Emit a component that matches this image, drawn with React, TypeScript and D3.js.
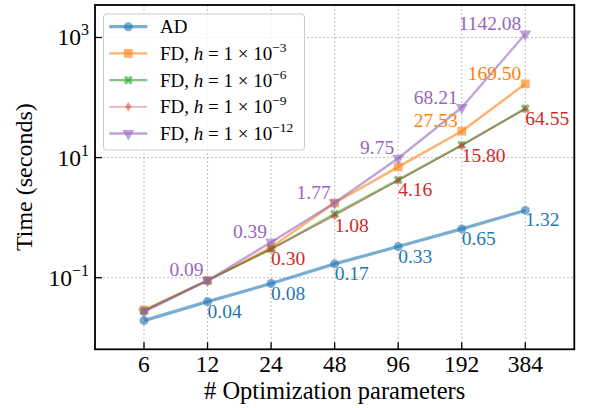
import React from "react";
import * as d3 from "d3";

const params = [6, 12, 24, 48, 96, 192, 384];
const adTimes = [0.0193, 0.04, 0.08, 0.17, 0.33, 0.65, 1.32];
const fd3Times = [0.029, 0.09, 0.32, 1.75, 7.0, 27.53, 169.5];
const fd6Times = [0.028, 0.09, 0.3, 1.15, 4.25, 16.2, 65.5];
const fd9Times = [0.028, 0.09, 0.3, 1.08, 4.16, 15.8, 64.55];
const fd12Times = [0.027, 0.09, 0.39, 1.77, 9.75, 68.21, 1142.08];

const adLabels = [null, "0.04", "0.08", "0.17", "0.33", "0.65", "1.32"];
const fd3Labels = [null, null, null, null, null, "27.53", "169.50"];
const fd9Labels = [null, null, "0.30", "1.08", "4.16", "15.80", "64.55"];
const fd12Labels = [null, "0.09", "0.39", "1.77", "9.75", "68.21", "1142.08"];

const yTickExps = [-1, 1, 3];
const legendExps = ["3", "6", "9", "12"];

const FONT = "Liberation Serif, DejaVu Serif, serif";

const W = 590, H = 408;
const L = 95, R = 574.3, T = 5, B = 349.3;

const x = d3.scaleLog().base(2).domain([Math.pow(2, 1.814), Math.pow(2, 9.356)]).range([L, R]);
const y = d3.scaleLog().domain([Math.pow(10, -2.192), Math.pow(10, 3.541)]).range([B, T]);

type Series = {
  name: string;
  vals: number[];
  color: string;
  lw: number;
  alpha: number;
  marker: string;
  labels: (string | null)[] | null;
  place: "br" | "tl";
};

const series: Series[] = [
  { name: "AD", vals: adTimes, color: "#1f77b4", lw: 3.2, alpha: 0.6, marker: "circle", labels: adLabels, place: "br" },
  { name: "3", vals: fd3Times, color: "#ff7f0e", lw: 2.4, alpha: 0.6, marker: "square", labels: fd3Labels, place: "tl" },
  { name: "6", vals: fd6Times, color: "#2ca02c", lw: 2.4, alpha: 0.6, marker: "x", labels: null, place: "br" },
  { name: "9", vals: fd9Times, color: "#d62728", lw: 1.3, alpha: 0.5, marker: "diamond", labels: fd9Labels, place: "br" },
  { name: "12", vals: fd12Times, color: "#9467bd", lw: 2.4, alpha: 0.6, marker: "tri", labels: fd12Labels, place: "tl" },
];

function markerPath(kind: string): string {
  switch (kind) {
    case "circle":
      return d3.symbol(d3.symbolCircle, 64)() as string;
    case "square":
      return d3.symbol(d3.symbolSquare, 78)() as string;
    case "x":
      return d3.symbol(d3.symbolCross, 52)() as string;
    case "diamond":
      return "M0,-4.8L2.9,0L0,4.8L-2.9,0Z";
    case "tri":
      return d3.symbol(d3.symbolTriangle, 62)() as string;
  }
  return "";
}

function markerTransform(kind: string, cx: number, cy: number) {
  if (kind === "x") return `translate(${cx},${cy}) rotate(45)`;
  if (kind === "tri") return `translate(${cx},${cy}) rotate(180)`;
  return `translate(${cx},${cy})`;
}

const txt: React.CSSProperties = { fontFamily: FONT };

export default function App() {
  const line = d3
    .line<number>()
    .x((_, i) => x(params[i]))
    .y((v) => y(v));

  return (
    <svg width={W} height={H} style={{ position: "absolute", left: 0, top: 0, background: "#fff", fontFamily: FONT }}>
      <rect x={0} y={0} width={W} height={H} fill="#fff" />
      <g stroke="#b0b0b0" strokeWidth={0.8} strokeDasharray="2,2">
        {params.map((p) => (
          <line key={"gx" + p} x1={x(p)} x2={x(p)} y1={T} y2={B} />
        ))}
        {yTickExps.map((e) => (
          <line key={"gy" + e} x1={L} x2={R} y1={y(Math.pow(10, e))} y2={y(Math.pow(10, e))} />
        ))}
      </g>
      {series.map((s) => (
        <g key={s.name}>
          <path d={line(s.vals) as string} fill="none" stroke={s.color} strokeWidth={s.lw} strokeOpacity={s.alpha} strokeLinejoin="round" />
          {s.vals.map((v, i) => (
            <path key={i} d={markerPath(s.marker)} transform={markerTransform(s.marker, x(params[i]), y(v))} fill={s.color} fillOpacity={s.alpha} />
          ))}
        </g>
      ))}
      {series.map((s) =>
        s.labels
          ? s.vals.map((v, i) => {
              const lab = s.labels![i];
              if (!lab) return null;
              const px = x(params[i]);
              const py = y(v);
              return s.place === "br" ? (
                <text key={s.name + i} style={txt} x={px} y={py + 16} fontSize={19.5} fill={s.color} textAnchor="start">
                  {lab}
                </text>
              ) : (
                <text key={s.name + i} style={txt} x={px - 4} y={py - 4} fontSize={19.5} fill={s.color} textAnchor="end">
                  {lab}
                </text>
              );
            })
          : null
      )}
      <g stroke="#000" strokeWidth={1.3}>
        {params.map((p) => (
          <line key={"tx" + p} x1={x(p)} x2={x(p)} y1={B} y2={B - 7} />
        ))}
        {yTickExps.map((e) => (
          <line key={"ty" + e} x1={L} x2={L + 7} y1={y(Math.pow(10, e))} y2={y(Math.pow(10, e))} />
        ))}
      </g>
      <rect x={L} y={T} width={R - L} height={B - T} fill="none" stroke="#000" strokeWidth={1.8} />
      {params.map((p) => (
        <text key={"lx" + p} style={txt} x={x(p)} y={372} fontSize={23.5} textAnchor="middle" fill="#000">
          {p}
        </text>
      ))}
      {yTickExps.map((e) => (
        <text key={"ly" + e} style={txt} x={89} y={y(Math.pow(10, e)) + 8} fontSize={23.5} textAnchor="end" fill="#000">
          10
          <tspan fontSize={16} dy={-10}>
            {e < 0 ? "\u2212" + Math.abs(e) : String(e)}
          </tspan>
        </text>
      ))}
      <text style={txt} x={(L + R) / 2} y={399} fontSize={24.5} textAnchor="middle" fill="#000">
        # Optimization parameters
      </text>
      <text style={txt} transform={`translate(32,${(T + B) / 2}) rotate(-90)`} fontSize={24} textAnchor="middle" fill="#000">
        Time (seconds)
      </text>
      <rect x={103.5} y={14} width={201} height={136} rx={3} fill="#fff" fillOpacity={0.8} stroke="#cccccc" strokeWidth={1} />
      {series.map((s, i) => {
        const ly = 26.7 + i * 26.7;
        return (
          <g key={"leg" + s.name}>
            <line x1={109.3} x2={147.3} y1={ly} y2={ly} stroke={s.color} strokeWidth={s.lw} strokeOpacity={s.alpha} />
            <path d={markerPath(s.marker)} transform={markerTransform(s.marker, 128.3, ly)} fill={s.color} fillOpacity={s.alpha} />
            <text style={txt} x={160} y={ly + 6.5} fontSize={19} fill="#000">
              {i === 0 ? (
                "AD"
              ) : (
                <>
                  {"FD, "}
                  <tspan fontStyle="italic">h</tspan>
                  {" = 1 \u00d7 10"}
                  <tspan fontSize={13.5} dy={-8}>
                    {"\u2212" + legendExps[i - 1]}
                  </tspan>
                </>
              )}
            </text>
          </g>
        );
      })}
    </svg>
  );
}
